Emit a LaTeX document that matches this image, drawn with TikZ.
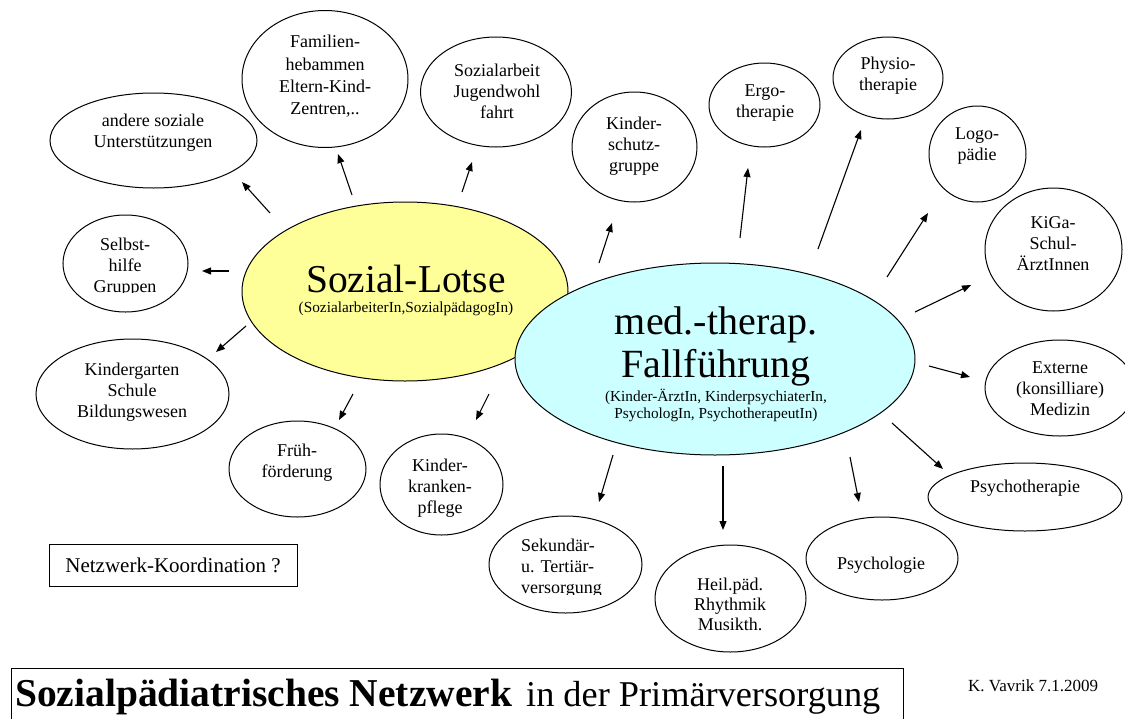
\documentclass[tikz,border=0pt]{standalone}
\usepackage{fontspec}
\setmainfont{Liberation Serif}
\usetikzlibrary{arrows.meta,shapes.geometric}
\definecolor{lotse}{HTML}{FFFF99}
\definecolor{fall}{HTML}{CCFFFF}
\tikzset{
  ell/.style={ellipse, draw, line width=1pt, inner sep=0pt},
  lbl/.style={align=center, inner sep=0pt, font=\fontsize{18}{21}\selectfont},
  arr/.style={-{Triangle[length=9pt,width=7pt]}, line width=1.1pt},
}
\begin{document}
\begin{tikzpicture}[x=1pt,y=-1pt]
\useasboundingbox (0,0) rectangle (1125,718);
\fill[white] (0,0) rectangle (1125,718);

% central ellipses
\node[ell, fill=lotse, minimum width=326pt, minimum height=179pt] (lotse) at (405,291.5) {};
\node[ell, fill=fall, minimum width=400pt, minimum height=192pt] (fall) at (715,359) {};
\node[inner sep=0pt, font=\fontsize{39.5}{44}\selectfont] (lotseT) at (406,279) {Sozial-Lotse};
\node[inner sep=0pt, font=\fontsize{15.3}{18}\selectfont] (lotseS) at (406,309) {(SozialarbeiterIn,SozialpädagogIn)};
\node[inner sep=0pt, font=\fontsize{40}{44}\selectfont] (fallT1) at (716,325) {med.-therap.};
\node[inner sep=0pt, font=\fontsize{40}{44}\selectfont] (fallT2) at (716,368) {Fallführung};
\node[inner sep=0pt, font=\fontsize{15.3}{18}\selectfont] (fallS1) at (716,397) {(Kinder-ÄrztIn, KinderpsychiaterIn,};
\node[inner sep=0pt, font=\fontsize{15.3}{18}\selectfont] (fallS2) at (716,415) {PsychologIn, PsychotherapeutIn)};

% outer ellipses
\node[ell, minimum width=207pt, minimum height=95pt] (andere) at (153.5,140.5) {};
\node[lbl] (andereT) at (153,132.5) {andere soziale\\Unterstützungen};
\node[ell, minimum width=166pt, minimum height=137pt] (fam) at (325,79) {};
\node[lbl, font=\fontsize{18}{22.3}\selectfont] (famT) at (325,76.5) {Familien-\\hebammen\\Eltern-Kind-\\Zentren,..};
\node[ell, minimum width=151pt, minimum height=110pt] (sozarb) at (496,92) {};
\node[lbl] (sozarbT) at (497,91) {Sozialarbeit\\Jugendwohl\\fahrt};
\node[ell, minimum width=125pt, minimum height=110pt] (schutz) at (634.5,147) {};
\node[lbl] (schutzT) at (634,146) {Kinder-\\schutz-\\gruppe};
\node[ell, minimum width=111pt, minimum height=84pt] (ergo) at (764.5,105) {};
\node[lbl] (ergoT) at (765,103) {Ergo-\\therapie};
\node[ell, minimum width=110pt, minimum height=82pt] (physio) at (888,78) {};
\node[lbl] (physioT) at (888,76) {Physio-\\therapie};
\node[ell, minimum width=97pt, minimum height=96pt] (logo) at (977.5,154) {};
\node[lbl] (logoT) at (977,146.5) {Logo-\\pädie};
\node[ell, minimum width=137pt, minimum height=123pt] (kiga) at (1053.5,249.5) {};
\node[lbl] (kigaT) at (1053,244) {KiGa-\\Schul-\\ÄrztInnen};
\node[ell, minimum width=150pt, minimum height=96pt] (extern) at (1060,388) {};
\node[lbl] (externT) at (1060,389) {Externe\\(konsilliare)\\Medizin};
\node[ell, minimum width=194pt, minimum height=68pt] (ptherap) at (1025,497) {};
\node[lbl] (ptherapT) at (1025,488) {Psychotherapie};
\node[ell, minimum width=152pt, minimum height=83pt] (psylog) at (882,558.5) {};
\node[lbl] (psylogT) at (881,565) {Psychologie};
\node[ell, minimum width=151pt, minimum height=107pt] (heil) at (730.5,598.5) {};
\node[lbl, font=\fontsize{18}{20}\selectfont] (heilT) at (730,604) {Heil.päd.\\Rhythmik\\Musikth.};
\node[ell, minimum width=153pt, minimum height=97pt] (sek) at (565.5,564.5) {};
\begin{scope}
  \clip (480,515) rectangle (650,594);
  \node[lbl, align=left, anchor=west] (sekT) at (521,568) {Sekundär-\\u. Tertiär-\\versorgung};
\end{scope}
\node[ell, minimum width=123pt, minimum height=101pt] (kkp) at (441.5,484.5) {};
\node[lbl] (kkpT) at (440,488) {Kinder-\\kranken-\\pflege};
\node[ell, minimum width=137pt, minimum height=96pt] (frueh) at (297.5,469) {};
\node[lbl] (fruehT) at (297,462.5) {Früh-\\förderung};
\node[ell, minimum width=193pt, minimum height=110pt] (kiga2) at (132.5,394) {};
\node[lbl] (kiga2T) at (132,392) {Kindergarten\\Schule\\Bildungswesen};
\node[ell, minimum width=125pt, minimum height=97pt] (selbst) at (125.5,263.5) {};
\begin{scope}
  \clip (60,210) rectangle (190,292);
  \node[lbl] (selbstT) at (125,267) {Selbst-\\hilfe\\Gruppen};
\end{scope}

% arrows from Sozial-Lotse
\coordinate (a1s) at (270,213); \coordinate (a1e) at (242,182);
\coordinate (a2s) at (352,195); \coordinate (a2e) at (338,154);
\coordinate (a3s) at (462,192); \coordinate (a3e) at (472,162);
\coordinate (a4s) at (229,271); \coordinate (a4e) at (202,271);
\coordinate (a5s) at (246,326); \coordinate (a5e) at (216,352);
\coordinate (a6s) at (353,394); \coordinate (a6e) at (339,420);
\coordinate (a7s) at (489,394); \coordinate (a7e) at (476,420);
\coordinate (a8s) at (599,263); \coordinate (a8e) at (612,223);
\foreach \i in {1,...,8} {\draw[arr] (a\i s) -- (a\i e);}

% arrows from Fallfuehrung
\coordinate (b1s) at (740,238); \coordinate (b1e) at (748,168);
\coordinate (b2s) at (818,249); \coordinate (b2e) at (861,130);
\coordinate (b3s) at (887,277); \coordinate (b3e) at (928,213);
\coordinate (b4s) at (915,312); \coordinate (b4e) at (971,285);
\coordinate (b5s) at (929,366); \coordinate (b5e) at (970,377);
\coordinate (b6s) at (892,423); \coordinate (b6e) at (943,469);
\coordinate (b7s) at (850,457); \coordinate (b7e) at (859,502);
\coordinate (b8s) at (723,466); \coordinate (b8e) at (723,530);
\coordinate (b9s) at (613,455); \coordinate (b9e) at (599,502);
\foreach \i in {1,...,9} {\draw[arr] (b\i s) -- (b\i e);}

% boxes
\node[draw, line width=1pt, minimum width=248pt, minimum height=42pt, inner sep=0pt,
      font=\fontsize{21}{24}\selectfont] (koord) at (173,565) {Netzwerk-Koordination ?};
\node[draw, line width=1pt, minimum width=892pt, minimum height=70pt, inner sep=0pt,
      anchor=north west] (tbox) at (11,668) {};
\node[anchor=base west, inner sep=0pt] (title) at (15,706)
  {{\fontsize{39.5}{44}\selectfont\bfseries Sozialpädiatrisches Netzwerk}\hspace{14pt}{\fontsize{36.3}{40}\selectfont in der Primärversorgung}};
\node[anchor=west, inner sep=0pt, font=\fontsize{17}{20}\selectfont] (auth) at (968,686) {K. Vavrik 7.1.2009};
\end{tikzpicture}
\end{document}
